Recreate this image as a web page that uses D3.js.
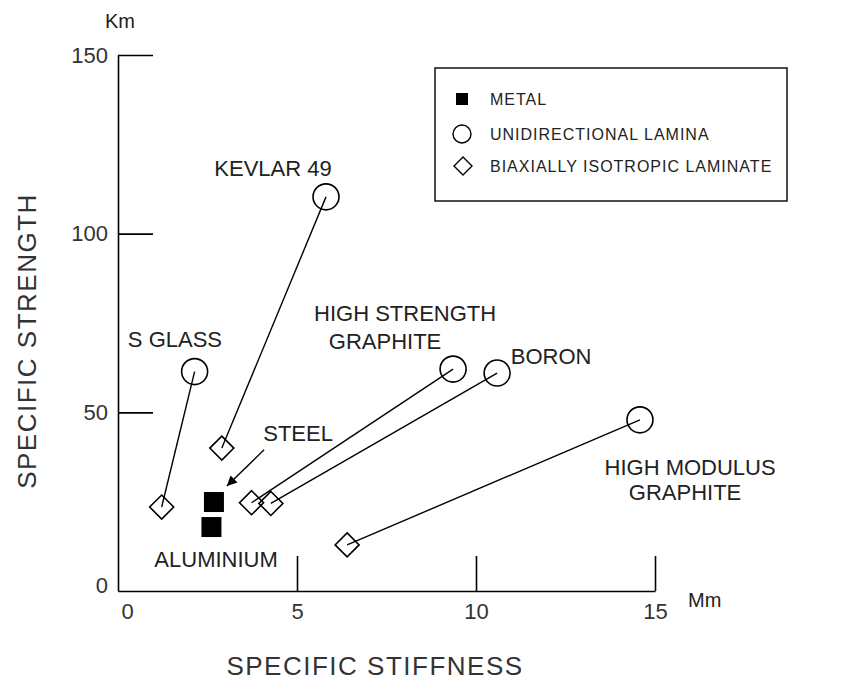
<!DOCTYPE html>
<html>
<head>
<meta charset="utf-8">
<script src="https://cdn.jsdelivr.net/npm/d3@7"></script>
<style>
  body { margin: 0; background: #fff; }
  text { font-family: "Liberation Sans", Arial, sans-serif; fill: #222; }
</style>
</head>
<body>
<svg id="chart" width="848" height="684"></svg>
<script>
// fibre materials: unidirectional lamina (circle) -> biaxial laminate (diamond)
var materials = ["KEVLAR 49", "S GLASS", "HIGH STRENGTH GRAPHITE", "BORON", "HIGH MODULUS GRAPHITE"];
var laminaStiffness = [5.81, 2.14, 9.36, 10.59, 14.58];
var laminaStrength = [110.3, 61.4, 62.1, 61.0, 47.9];
var laminateStiffness = [2.9, 1.22, 3.73, 4.27, 6.4];
var laminateStrength = [40.0, 23.5, 24.7, 24.5, 12.9];

var metals = ["STEEL", "ALUMINIUM"];
var metalStiffness = [2.68, 2.61];
var metalStrength = [24.9, 17.9];

var xTicks = [0, 5, 10, 15];
var yTicks = [0, 50, 100, 150];
var legendLabels = ["METAL", "UNIDIRECTIONAL LAMINA", "BIAXIALLY ISOTROPIC LAMINATE"];

// where the names sit, in data units
var labelLines = [
    {text: "KEVLAR 49", x: 4.33, y: 116.1},
    {text: "S GLASS", x: 1.59, y: 68.3},
    {text: "HIGH STRENGTH", x: 8.02, y: 75.6},
    {text: "GRAPHITE", x: 7.46, y: 67.7},
    {text: "BORON", x: 12.1, y: 63.5},
    {text: "STEEL", x: 5.03, y: 42.0},
    {text: "HIGH MODULUS", x: 15.98, y: 32.5},
    {text: "GRAPHITE", x: 15.84, y: 25.5},
    {text: "ALUMINIUM", x: 2.74, y: 6.7}
];
var steelArrow = {x1: 4.08, y1: 39.5, x2: 3.04, y2: 29.4};

var svg = d3.select("#chart");

var x = d3.scaleLinear().domain([0, 15]).range([118, 655]);
var y = d3.scaleLinear().domain([0, 150]).range([591, 55]);

// axes, ticks pointing inwards
var xAxis = svg.append("g")
    .attr("transform", "translate(0," + y(0) + ")")
    .call(d3.axisBottom(x).tickValues(xTicks).tickSizeInner(-35).tickSizeOuter(0).tickPadding(12));
var yAxis = svg.append("g")
    .attr("transform", "translate(" + x(0) + ",0)")
    .call(d3.axisLeft(y).tickValues(yTicks).tickSizeInner(-35).tickSizeOuter(0).tickPadding(10));

[xAxis, yAxis].forEach(function (g) {
    g.attr("font-family", null);
    g.select(".domain").attr("stroke", "#000").attr("stroke-width", 1.6);
    g.selectAll(".tick line").attr("stroke", "#000").attr("stroke-width", 1.6)
        .filter(function (d) { return d === 0; }).remove();
    g.selectAll(".tick text").style("font-size", "22px").style("fill", "#333");
});
xAxis.selectAll(".tick text").filter(function (d) { return d === 0; }).attr("dx", 9);
yAxis.selectAll(".tick text").filter(function (d) { return d === 0; }).attr("dy", "0.05em");

svg.append("text").attr("x", 120).attr("y", 28).attr("text-anchor", "middle")
    .style("font-size", "20px").text("Km");
svg.append("text").attr("x", 688).attr("y", 607)
    .style("font-size", "20px").text("Mm");

svg.append("text")
    .attr("x", 375).attr("y", 675).attr("text-anchor", "middle")
    .style("font-size", "26px").style("letter-spacing", "1.5px").style("fill", "#333")
    .text("SPECIFIC STIFFNESS");
svg.append("text")
    .attr("transform", "translate(36,341) rotate(-90)")
    .attr("text-anchor", "middle")
    .style("font-size", "26px").style("letter-spacing", "1.5px").style("fill", "#333")
    .text("SPECIFIC STRENGTH");

// connecting lines
svg.selectAll(".link")
    .data(materials)
    .enter().append("line")
    .attr("class", "link")
    .attr("x1", function (d, i) { return x(laminaStiffness[i]); })
    .attr("y1", function (d, i) { return y(laminaStrength[i]); })
    .attr("x2", function (d, i) { return x(laminateStiffness[i]); })
    .attr("y2", function (d, i) { return y(laminateStrength[i]); })
    .attr("stroke", "#000")
    .attr("stroke-width", 1.4);

var diamond = function (cx, cy, r) {
    return "M" + cx + "," + (cy - r) + "L" + (cx + r) + "," + cy +
        "L" + cx + "," + (cy + r) + "L" + (cx - r) + "," + cy + "Z";
};

svg.selectAll(".lamina")
    .data(materials)
    .enter().append("circle")
    .attr("class", "lamina")
    .attr("cx", function (d, i) { return x(laminaStiffness[i]); })
    .attr("cy", function (d, i) { return y(laminaStrength[i]); })
    .attr("r", 13)
    .attr("fill", "none")
    .attr("stroke", "#000")
    .attr("stroke-width", 1.6);

svg.selectAll(".laminate")
    .data(materials)
    .enter().append("path")
    .attr("class", "laminate")
    .attr("d", function (d, i) { return diamond(x(laminateStiffness[i]), y(laminateStrength[i]), 12); })
    .attr("fill", "none")
    .attr("stroke", "#000")
    .attr("stroke-width", 1.6);

svg.selectAll(".metal")
    .data(metals)
    .enter().append("rect")
    .attr("class", "metal")
    .attr("x", function (d, i) { return x(metalStiffness[i]) - 10; })
    .attr("y", function (d, i) { return y(metalStrength[i]) - 10; })
    .attr("width", 20)
    .attr("height", 20)
    .attr("fill", "#000");

// steel pointer
svg.append("defs").append("marker")
    .attr("id", "arrowhead")
    .attr("viewBox", "0 0 10 10")
    .attr("refX", 10).attr("refY", 5)
    .attr("markerWidth", 14).attr("markerHeight", 10)
    .attr("markerUnits", "userSpaceOnUse")
    .attr("orient", "auto")
    .append("path").attr("d", "M0,0L10,5L0,10Z").attr("fill", "#000");
svg.append("line")
    .attr("x1", x(steelArrow.x1)).attr("y1", y(steelArrow.y1))
    .attr("x2", x(steelArrow.x2)).attr("y2", y(steelArrow.y2))
    .attr("stroke", "#000").attr("stroke-width", 1.4)
    .attr("marker-end", "url(#arrowhead)");

svg.selectAll(".name")
    .data(labelLines)
    .enter().append("text")
    .attr("class", "name")
    .attr("x", function (d) { return x(d.x); })
    .attr("y", function (d) { return y(d.y); })
    .attr("text-anchor", "middle")
    .style("font-size", "22px")
    .text(function (d) { return d.text; });

// legend
var legend = svg.append("g").attr("transform", "translate(435,68)");
legend.append("rect")
    .attr("width", 352).attr("height", 133)
    .attr("fill", "#fff").attr("stroke", "#000").attr("stroke-width", 1.4);
var rowY = [31, 66, 98];
legend.append("rect").attr("x", 21).attr("y", rowY[0] - 6).attr("width", 12).attr("height", 12).attr("fill", "#000");
legend.append("circle").attr("cx", 27).attr("cy", rowY[1]).attr("r", 9)
    .attr("fill", "none").attr("stroke", "#000").attr("stroke-width", 1.4);
legend.append("path").attr("d", diamond(28, rowY[2], 9))
    .attr("fill", "none").attr("stroke", "#000").attr("stroke-width", 1.4);
legend.selectAll(".leg")
    .data(legendLabels)
    .enter().append("text")
    .attr("class", "leg")
    .attr("x", 55)
    .attr("y", function (d, i) { return rowY[i]; })
    .attr("dy", "0.36em")
    .style("font-size", "16px")
    .style("letter-spacing", "1px")
    .text(function (d) { return d; });
</script>
</body>
</html>
